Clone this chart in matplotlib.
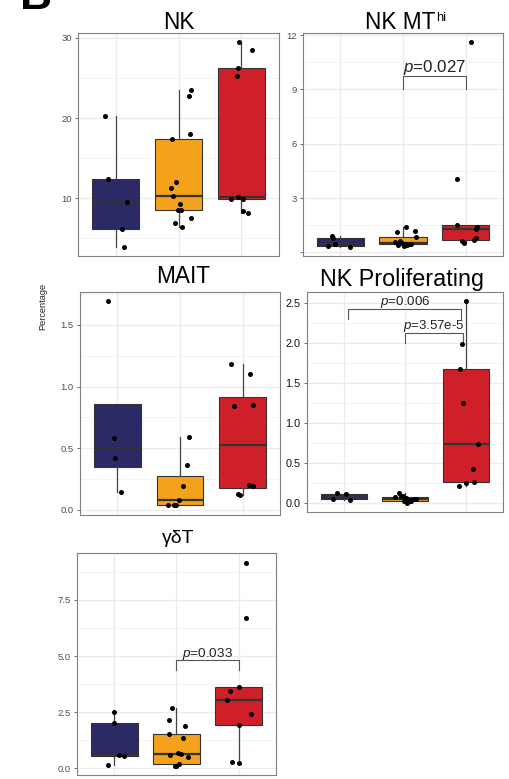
import matplotlib
matplotlib.use("Agg")
import matplotlib.pyplot as plt
import numpy as np
from matplotlib.ticker import FixedLocator

plt.rcParams['font.family'] = ['Liberation Sans', 'DejaVu Sans']
plt.rcParams['mathtext.fontset'] = 'custom'
plt.rcParams['mathtext.rm'] = 'Liberation Sans'
plt.rcParams['mathtext.it'] = 'Liberation Sans:italic'

# ---------------- data ----------------
colors = ["#2B2966", "#F4A21C", "#CF2029"]
positions = [1, 2, 3]

nk_values = [
    [20.3, 12.4, 9.5, 6.1, 3.95],
    [23.55, 22.8, 18.04, 17.4, 12.0, 11.3, 10.25, 9.33, 8.5, 8.5, 7.54, 6.95, 6.4],
    [29.5, 28.45, 26.2, 25.2, 10.1, 9.9, 9.9, 8.4, 8.15],
]
nk_jitter = [
    [-0.18, -0.12, 0.18, 0.09, 0.13],
    [0.19, 0.17, 0.18, -0.10, -0.05, -0.12, -0.09, 0.02, -0.01, 0.03, 0.19, -0.06, 0.06],
    [-0.04, 0.17, -0.05, -0.07, -0.05, -0.17, 0.02, 0.02, 0.10],
]

mt_values = [
    [0.92, 0.81, 0.46, 0.36, 0.31],
    [1.41, 1.18, 1.10, 0.83, 0.62, 0.55, 0.50, 0.48, 0.44, 0.44, 0.40, 0.38, 0.36],
    [11.6, 4.07, 1.49, 1.38, 1.30, 0.77, 0.70, 0.62, 0.51],
]
mt_jitter = [
    [-0.13, -0.11, -0.08, -0.20, 0.16],
    [0.05, 0.19, -0.10, 0.20, -0.05, -0.12, -0.02, 0.13, 0.11, 0.04, -0.08, 0.07, 0.01],
    [0.09, -0.14, -0.14, 0.18, 0.16, 0.17, 0.14, -0.06, -0.02],
]

mait_values = [
    [1.695, 0.584, 0.419, 0.146],
    [0.592, 0.362, 0.197, 0.084, 0.043, 0.043, 0.038],
    [1.187, 1.105, 0.85, 0.843, 0.205, 0.197, 0.132, 0.119],
]
mait_jitter = [
    [-0.15, -0.06, -0.04, 0.05],
    [0.14, 0.11, 0.05, -0.02, -0.20, -0.06, -0.10],
    [-0.18, 0.12, 0.17, -0.13, 0.10, 0.16, -0.08, -0.04],
]

prolif_values = [
    [0.129, 0.11, 0.052, 0.04],
    [0.121, 0.09, 0.085, 0.08, 0.059, 0.052, 0.05, 0.045, 0.035, 0.03, 0.025, 0.02, 0.004],
    [2.516, 1.98, 1.67, 1.254, 0.741, 0.425, 0.263, 0.254, 0.208],
]
prolif_jitter = [
    [-0.10, 0.04, -0.18, 0.10],
    [-0.10, -0.07, -0.03, -0.17, 0.02, 0.18, 0.14, 0.16, 0.08, -0.02, 0.07, 0.10, 0.04],
    [0.0, -0.08, -0.10, -0.06, 0.19, 0.11, 0.12, 0.0, -0.12],
]

gd_values = [
    [2.49, 2.0, 0.58, 0.535, 0.16],
    [2.70, 2.14, 1.90, 1.51, 1.34, 0.68, 0.62, 0.58, 0.49, 0.18, 0.12, 0.11, 0.10],
    [9.14, 6.71, 3.61, 3.46, 3.04, 2.40, 1.94, 0.29, 0.25],
]
gd_jitter = [
    [0.0, 0.0, 0.07, 0.16, -0.10],
    [-0.08, -0.12, 0.13, -0.12, 0.11, 0.02, 0.08, -0.11, 0.18, 0.04, 0.0, -0.01, -0.03],
    [0.11, 0.11, 0.01, -0.14, -0.19, 0.20, 0.0, -0.10, 0.0],
]

nk_ticks = [10, 20, 30]
nk_ticklabels = ["10", "20", "30"]
mt_ticks = [0, 3, 6, 9, 12]
mt_ticklabels = ["", "3", "6", "9", "12"]
mait_ticks = [0.0, 0.5, 1.0, 1.5]
mait_ticklabels = ["0.0", "0.5", "1.0", "1.5"]
prolif_ticks = [0.0, 0.5, 1.0, 1.5, 2.0, 2.5]
prolif_ticklabels = ["0.0", "0.5", "1.0", "1.5", "2.0", "2.5"]
gd_ticks = [0.0, 2.5, 5.0, 7.5]
gd_ticklabels = ["0.0", "2.5", "5.0", "7.5"]

# brackets: (x1, x2, y_top, y_leg_left, y_leg_right, label, text_x, text_y, fontsize)
mt_brackets = [(2.0, 3.0, 9.74, 9.0, 9.0, r"$p$=0.027", 2.5, 9.98, 12.2)]
prolif_brackets = [
    (1.08, 2.91, 2.425, 2.30, 2.30, r"$p$=0.006", 2.0, 2.47, 9.6),
    (2.0, 2.95, 2.125, 2.0, 2.0, r"$p$=3.57e-5", 2.47, 2.175, 9.5),
]
gd_brackets = [(2.0, 3.0, 4.81, 4.37, 4.37, r"$p$=0.033", 2.5, 4.97, 9.7)]

# ---------------- figure ----------------
W, H = 510, 779
fig = plt.figure(figsize=(W / 100, H / 100), dpi=100)


def px_rect(l, r, t, b):
    return [l / W, 1 - b / H, (r - l) / W, (b - t) / H]


def box_stats(vals):
    v = np.asarray(vals, float)
    q1, med, q3 = np.percentile(v, [25, 50, 75])
    iqr = q3 - q1
    lo = v[v >= q1 - 1.5 * iqr].min()
    hi = v[v <= q3 + 1.5 * iqr].max()
    return dict(med=med, q1=q1, q3=q3, whislo=min(lo, q1), whishi=max(hi, q3), fliers=[])


def panel(rect, values, jitter, ylim, ticks, ticklabels, minor, brackets=(),
          tick_color="#4D4D4D", tick_size=6.8):
    ax = fig.add_axes(px_rect(*rect))
    ax.set_xlim(0.4, 3.6)
    ax.set_ylim(*ylim)
    ax.set_facecolor("white")
    # grid
    for m in minor:
        ax.axhline(m, color="#F2F2F2", lw=0.6, zorder=0)
    for t in ticks:
        ax.axhline(t, color="#EBEBEB", lw=0.9, zorder=0)
    for p in positions:
        ax.axvline(p, color="#EBEBEB", lw=0.9, zorder=0)
    stats = [box_stats(v) for v in values]
    bp = ax.bxp(stats, positions=positions, widths=0.75, patch_artist=True,
                showfliers=False, showcaps=False,
                boxprops=dict(edgecolor="#333333", linewidth=0.8),
                whiskerprops=dict(color="#444444", linewidth=0.9),
                medianprops=dict(color="#333333", linewidth=1.6),
                zorder=2)
    for patch, c in zip(bp["boxes"], colors):
        patch.set_facecolor(c)
    for p, vals, jit in zip(positions, values, jitter):
        ax.scatter(np.array(jit) + p, vals, s=13, color="black", zorder=4, linewidths=0)
    for (x1, x2, yt, yl, yr, lab, tx, ty, fs) in brackets:
        ax.plot([x1, x1, x2, x2], [yl, yt, yt, yr], color="#555555", lw=0.8,
                zorder=3, solid_joinstyle="miter")
        ax.text(tx, ty, lab, ha="center", va="baseline", fontsize=fs, color="#222222")
    ax.yaxis.set_major_locator(FixedLocator(ticks))
    ax.set_yticklabels(ticklabels)
    ax.set_xticks([])
    ax.tick_params(axis="y", length=2.5, width=0.6, color="#555555", pad=2,
                   labelsize=tick_size, labelcolor=tick_color)
    for s in ax.spines.values():
        s.set_color("#808080")
        s.set_linewidth(0.8)
    return ax


panel((78.3, 279, 32.7, 256.3), nk_values, nk_jitter, (2.75, 30.66),
      nk_ticks, nk_ticklabels, [5, 15, 25])
panel((302.7, 503.3, 32.7, 256.3), mt_values, mt_jitter, (-0.22, 12.13),
      mt_ticks, mt_ticklabels, [1.5, 4.5, 7.5, 10.5], mt_brackets)
panel((80, 280, 291.7, 515.3), mait_values, mait_jitter, (-0.043, 1.77),
      mait_ticks, mait_ticklabels, [0.25, 0.75, 1.25, 1.75])
panel((306.7, 503.3, 292.3, 512.3), prolif_values, prolif_jitter, (-0.116, 2.63),
      prolif_ticks, prolif_ticklabels, [0.25, 0.75, 1.25, 1.75, 2.25],
      prolif_brackets, tick_color="#111111", tick_size=7.8)
panel((77, 276, 553.3, 775.3), gd_values, gd_jitter, (-0.31, 9.58),
      gd_ticks, gd_ticklabels, [1.25, 3.75, 6.25, 8.75], gd_brackets)

# titles
fig.text(179.2 / W, 1 - 29.3 / H, "NK", ha="center", va="baseline", fontsize=16.3)
fig.text(365 / W, 1 - 29.3 / H, "NK MT", ha="left", va="baseline", fontsize=16.3)
fig.text(436 / W, 1 - 20.7 / H, "hi", ha="left", va="baseline", fontsize=9.3)
fig.text(182.7 / W, 1 - 283.3 / H, "MAIT", ha="center", va="baseline", fontsize=16.3)
fig.text(401.7 / W, 1 - 286 / H, "NK Proliferating", ha="center", va="baseline", fontsize=16.8)
fig.text(177.7 / W, 1 - 543.3 / H, "γδT", ha="center", va="baseline", fontsize=14)

# y label
fig.text(43 / W, 1 - 306 / H, "Percentage", rotation=90, ha="center", va="center",
         fontsize=6.6, color="#222222")

# panel letter (cut off at top, as in the reference)
fig.text(20 / W, 1 - 9.3 / H, "B", ha="left", va="baseline", fontsize=32,
         fontweight="bold")

fig.savefig("out.png", dpi=100)
